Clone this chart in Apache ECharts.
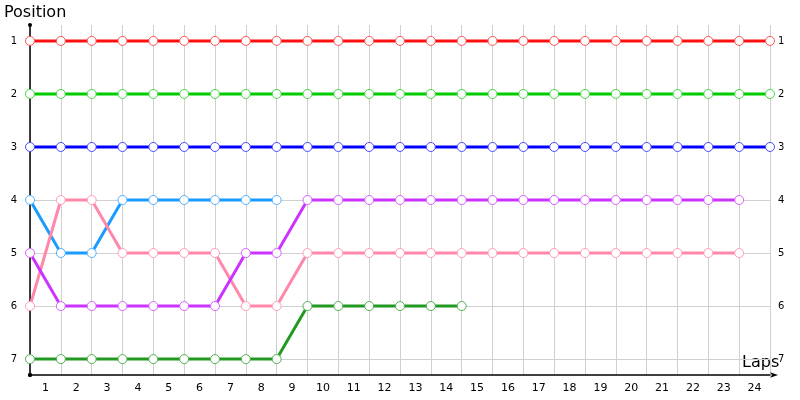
<!DOCTYPE html>
<html>
<head>
<meta charset="utf-8">
<script src="https://cdn.jsdelivr.net/npm/echarts@6/dist/echarts.min.js"></script>
<style>
  html, body { margin: 0; padding: 0; background: #fff; }
  #chart { width: 800px; height: 400px; }
</style>
</head>
<body>
<div id="chart"></div>
<script>
const laps = ['1','2','3','4','5','6','7','8','9','10','11','12','13','14','15','16','17','18','19','20','21','22','23','24']
const positions = [1, 2, 3, 4, 5, 6, 7]

const red      = [1,1,1,1,1,1,1,1,1,1,1,1,1,1,1,1,1,1,1,1,1,1,1,1,1]
const green    = [2,2,2,2,2,2,2,2,2,2,2,2,2,2,2,2,2,2,2,2,2,2,2,2,2]
const blue     = [3,3,3,3,3,3,3,3,3,3,3,3,3,3,3,3,3,3,3,3,3,3,3,3,3]
const skyblue  = [4,5,5,4,4,4,4,4,4]
const pink     = [6,4,4,5,5,5,5,6,6,5,5,5,5,5,5,5,5,5,5,5,5,5,5,5]
const purple   = [5,6,6,6,6,6,6,5,5,4,4,4,4,4,4,4,4,4,4,4,4,4,4,4]
const darkgreen = [7,7,7,7,7,7,7,7,7,6,6,6,6,6,6]

const drivers = [
  { data: red, color: '#ff1010', ring: '#ff5050' },
  { data: green, color: '#00cc00', ring: '#40d840' },
  { data: blue, color: '#0000ff', ring: '#4848ff' },
  { data: skyblue, color: '#1a9bff', ring: '#50b0ff' },
  { data: pink, color: '#ff88aa', ring: '#ff9cb8' },
  { data: purple, color: '#cc33ff', ring: '#d660ff' },
  { data: darkgreen, color: '#229922', ring: '#50b050' }
]

const chart = echarts.init(document.getElementById('chart'))
const font = 'DejaVu Sans'

function yAxisFor(pos) {
  return {
    type: 'value',
    position: pos,
    inverse: true,
    min: 0.7,
    max: 7.3,
    axisLine: pos === 'left'
      ? { show: true, lineStyle: { color: '#000', width: 1.5 }, symbol: ['circle', 'circle'], symbolSize: [4, 4] }
      : { show: false },
    axisTick: { show: false, customValues: positions },
    axisLabel: {
      customValues: positions,
      color: '#000', fontSize: 10, fontFamily: font,
      margin: pos === 'left' ? 13 : 8
    },
    splitLine: pos === 'left'
      ? { show: true, lineStyle: { color: '#d0d0d0', width: 1 } }
      : { show: false }
  }
}

chart.setOption({
  animation: false,
  grid: { left: 30, right: 30, top: 25, bottom: 25 },
  xAxis: [
    {
      type: 'value',
      min: 0,
      max: 24,
      interval: 1,
      axisLine: { show: true, onZero: false, lineStyle: { color: '#000', width: 1.5 }, symbol: ['circle', 'arrow'], symbolSize: [4, 8], symbolOffset: [0, 8] },
      axisTick: { show: false },
      axisLabel: { show: false },
      splitLine: { show: true, lineStyle: { color: '#d0d0d0', width: 1 } }
    },
    {
      type: 'category',
      position: 'bottom',
      data: laps,
      boundaryGap: true,
      axisLine: { show: false },
      axisTick: { show: false },
      axisLabel: { color: '#000', fontSize: 11, fontFamily: font, margin: 8 },
      splitLine: { show: false }
    }
  ],
  yAxis: [yAxisFor('left'), yAxisFor('right')],
  graphic: [
    { type: 'text', left: 4, top: 5, style: { text: 'Position', fontSize: 16, fontFamily: font, fill: '#000' } },
    { type: 'text', left: 742, top: 355, style: { text: 'Laps', fontSize: 16, fontFamily: font, fill: '#000' } }
  ],
  series: drivers.map(d => ({
    type: 'line',
    xAxisIndex: 0,
    yAxisIndex: 0,
    data: d.data.map((v, i) => [i, v]),
    symbol: 'circle',
    symbolSize: 9,
    showAllSymbol: true,
    lineStyle: { color: d.color, width: 3 },
    itemStyle: { color: '#fff', borderColor: d.ring, borderWidth: 1 }
  }))
})
</script>
</body>
</html>
